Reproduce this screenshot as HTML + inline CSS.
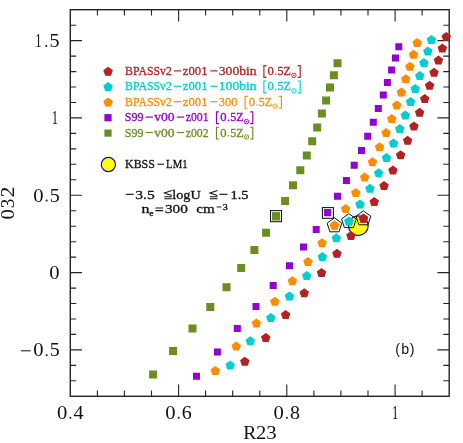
<!DOCTYPE html>
<html><head><meta charset="utf-8"><title>O32 vs R23</title>
<style>html,body{margin:0;padding:0;background:#fff;}svg{display:block;will-change:transform;}text{font-family:"Liberation Serif",serif;}</style>
</head><body>
<svg width="463" height="443" viewBox="0 0 463 443">
<rect width="463" height="443" fill="#fff"/>
<path d="M70.3 380.8h5.9M449.2 380.8h-5.9M70.3 365.4h5.9M449.2 365.4h-5.9M70.3 349.9h11.7M449.2 349.9h-11.7M70.3 334.4h5.9M449.2 334.4h-5.9M70.3 319.0h5.9M449.2 319.0h-5.9M70.3 303.5h5.9M449.2 303.5h-5.9M70.3 288.1h5.9M449.2 288.1h-5.9M70.3 272.6h11.7M449.2 272.6h-11.7M70.3 257.1h5.9M449.2 257.1h-5.9M70.3 241.7h5.9M449.2 241.7h-5.9M70.3 226.2h5.9M449.2 226.2h-5.9M70.3 210.7h5.9M449.2 210.7h-5.9M70.3 195.3h11.7M449.2 195.3h-11.7M70.3 179.8h5.9M449.2 179.8h-5.9M70.3 164.3h5.9M449.2 164.3h-5.9M70.3 148.9h5.9M449.2 148.9h-5.9M70.3 133.4h5.9M449.2 133.4h-5.9M70.3 117.9h11.7M449.2 117.9h-11.7M70.3 102.5h5.9M449.2 102.5h-5.9M70.3 87.0h5.9M449.2 87.0h-5.9M70.3 71.6h5.9M449.2 71.6h-5.9M70.3 56.1h5.9M449.2 56.1h-5.9M70.3 40.6h11.7M449.2 40.6h-11.7M70.3 25.2h5.9M449.2 25.2h-5.9M97.4 396.3v-5.9M97.4 9.7v5.9M124.4 396.3v-5.9M124.4 9.7v5.9M151.5 396.3v-5.9M151.5 9.7v5.9M178.6 396.3v-11.7M178.6 9.7v11.7M205.6 396.3v-5.9M205.6 9.7v5.9M232.7 396.3v-5.9M232.7 9.7v5.9M259.8 396.3v-5.9M259.8 9.7v5.9M286.8 396.3v-11.7M286.8 9.7v11.7M313.9 396.3v-5.9M313.9 9.7v5.9M340.9 396.3v-5.9M340.9 9.7v5.9M368.0 396.3v-5.9M368.0 9.7v5.9M395.1 396.3v-11.7M395.1 9.7v11.7M422.1 396.3v-5.9M422.1 9.7v5.9" stroke="#242424" stroke-width="1.1" fill="none"/>
<rect x="70.3" y="9.7" width="378.9" height="386.6" fill="none" stroke="#242424" stroke-width="1.4"/>
<g>
<circle cx="358.3" cy="225.7" r="9.9" fill="#ffff00" stroke="#0a0acd" stroke-width="1.2"/>
<path fill="#6b8e23" d="M149.1 370.6h8.0v8.0h-8.0zM169.1 346.9h8.0v8.0h-8.0zM188.5 324.6h8.0v8.0h-8.0zM206.3 303.1h8.0v8.0h-8.0zM222.5 283.2h8.0v8.0h-8.0zM237.2 264.1h8.0v8.0h-8.0zM250.4 245.9h8.0v8.0h-8.0zM262.1 228.7h8.0v8.0h-8.0zM272.1 212.4h8.0v8.0h-8.0zM281.1 197.1h8.0v8.0h-8.0zM289.0 181.3h8.0v8.0h-8.0zM296.3 166.2h8.0v8.0h-8.0zM302.8 151.5h8.0v8.0h-8.0zM308.2 137.3h8.0v8.0h-8.0zM313.2 123.5h8.0v8.0h-8.0zM317.9 109.6h8.0v8.0h-8.0zM322.1 96.4h8.0v8.0h-8.0zM326.0 83.4h8.0v8.0h-8.0zM329.9 71.2h8.0v8.0h-8.0zM333.5 59.2h8.0v8.0h-8.0z"/>
<path fill="#9400d3" d="M193.0 372.8h7.0v7.0h-7.0zM213.9 348.5h7.0v7.0h-7.0zM233.8 325.0h7.0v7.0h-7.0zM252.5 302.9h7.0v7.0h-7.0zM269.7 282.0h7.0v7.0h-7.0zM286.0 262.3h7.0v7.0h-7.0zM300.0 243.5h7.0v7.0h-7.0zM312.7 226.0h7.0v7.0h-7.0zM324.1 209.2h7.0v7.0h-7.0zM334.0 192.8h7.0v7.0h-7.0zM342.9 177.0h7.0v7.0h-7.0zM350.7 161.7h7.0v7.0h-7.0zM358.0 147.0h7.0v7.0h-7.0zM364.2 132.7h7.0v7.0h-7.0zM369.8 118.7h7.0v7.0h-7.0zM374.8 104.9h7.0v7.0h-7.0zM379.8 91.6h7.0v7.0h-7.0zM383.9 79.0h7.0v7.0h-7.0zM388.1 66.6h7.0v7.0h-7.0zM392.0 54.6h7.0v7.0h-7.0zM395.3 43.2h7.0v7.0h-7.0z"/>
<path fill="#ff8c00" d="M215.3,365.9L220.1,369.4L218.3,374.9L212.4,374.9L210.6,369.4zM236.2,341.6L241.0,345.1L239.2,350.6L233.3,350.6L231.5,345.1zM256.3,318.6L261.1,322.1L259.3,327.6L253.4,327.6L251.6,322.1zM274.8,296.8L279.6,300.3L277.8,305.8L271.9,305.8L270.1,300.3zM292.3,276.3L297.1,279.8L295.3,285.3L289.4,285.3L287.6,279.8zM307.9,256.9L312.7,260.4L310.9,265.9L305.0,265.9L303.2,260.4zM322.0,238.3L326.8,241.8L325.0,247.3L319.1,247.3L317.3,241.8zM334.4,220.6L339.2,224.1L337.4,229.6L331.5,229.6L329.7,224.1zM345.6,203.9L350.4,207.4L348.6,212.9L342.7,212.9L340.9,207.4zM355.8,188.1L360.5,191.6L358.7,197.1L352.8,197.1L351.0,191.6zM364.6,172.4L369.4,175.9L367.6,181.4L361.7,181.4L359.9,175.9zM372.4,157.3L377.2,160.8L375.4,166.3L369.5,166.3L367.7,160.8zM379.5,142.2L384.3,145.7L382.5,151.2L376.6,151.2L374.8,145.7zM386.0,127.9L390.8,131.4L389.0,136.9L383.1,136.9L381.3,131.4zM391.8,114.0L396.5,117.5L394.7,123.0L388.8,123.0L387.0,117.5zM396.8,100.6L401.5,104.1L399.7,109.6L393.8,109.6L392.0,104.1zM401.3,87.6L406.1,91.1L404.3,96.6L398.4,96.6L396.6,91.1zM405.8,74.2L410.5,77.7L408.7,83.2L402.8,83.2L401.0,77.7zM409.9,61.8L414.7,65.3L412.9,70.8L407.0,70.8L405.2,65.3zM413.5,49.8L418.3,53.3L416.5,58.8L410.6,58.8L408.8,53.3zM417.1,38.1L421.9,41.6L420.1,47.1L414.2,47.1L412.4,41.6z"/>
<path fill="#00ced1" d="M230.2,360.4L234.9,363.9L233.1,369.4L227.2,369.4L225.4,363.9zM250.3,336.3L255.1,339.8L253.3,345.3L247.4,345.3L245.6,339.8zM270.8,313.1L275.6,316.6L273.8,322.1L267.9,322.1L266.1,316.6zM289.4,291.5L294.2,295.0L292.4,300.5L286.5,300.5L284.7,295.0zM306.8,271.1L311.5,274.6L309.7,280.1L303.8,280.1L302.0,274.6zM322.3,252.1L327.1,255.6L325.3,261.1L319.4,261.1L317.6,255.6zM336.3,233.3L341.1,236.8L339.3,242.3L333.4,242.3L331.6,236.8zM348.9,216.4L353.7,219.9L351.9,225.4L346.0,225.4L344.2,219.9zM360.0,199.6L364.8,203.1L363.0,208.6L357.1,208.6L355.3,203.1zM369.9,183.8L374.7,187.3L372.9,192.8L367.0,192.8L365.2,187.3zM378.6,168.3L383.4,171.8L381.6,177.3L375.7,177.3L373.9,171.8zM386.5,153.1L391.3,156.6L389.5,162.1L383.6,162.1L381.8,156.6zM393.5,138.6L398.3,142.1L396.5,147.6L390.6,147.6L388.8,142.1zM399.8,124.1L404.6,127.6L402.8,133.1L396.9,133.1L395.1,127.6zM405.3,110.4L410.1,113.9L408.3,119.4L402.4,119.4L400.6,113.9zM410.5,96.9L415.3,100.4L413.5,105.9L407.6,105.9L405.8,100.4zM415.2,84.1L420.0,87.6L418.2,93.1L412.3,93.1L410.5,87.6zM419.8,70.9L424.5,74.4L422.7,79.9L416.8,79.9L415.0,74.4zM423.9,58.1L428.7,61.6L426.9,67.1L421.0,67.1L419.2,61.6zM427.8,46.4L432.6,49.9L430.8,55.4L424.9,55.4L423.1,49.9zM431.4,35.0L436.2,38.5L434.4,44.0L428.5,44.0L426.7,38.5z"/>
<path fill="#b22222" d="M244.8,356.8L249.6,360.3L247.8,365.8L241.9,365.8L240.1,360.3zM265.8,332.9L270.5,336.4L268.7,341.9L262.8,341.9L261.0,336.4zM285.6,310.0L290.4,313.5L288.6,319.0L282.7,319.0L280.9,313.5zM304.2,288.3L309.0,291.8L307.2,297.3L301.3,297.3L299.5,291.8zM321.5,268.1L326.3,271.6L324.5,277.1L318.6,277.1L316.8,271.6zM336.9,248.8L341.7,252.3L339.9,257.8L334.0,257.8L332.2,252.3zM350.9,230.9L355.7,234.4L353.9,239.9L348.0,239.9L346.2,234.4zM363.4,213.6L368.2,217.1L366.4,222.6L360.5,222.6L358.7,217.1zM374.2,196.9L379.0,200.4L377.2,205.9L371.3,205.9L369.5,200.4zM384.0,181.1L388.8,184.6L387.0,190.1L381.1,190.1L379.3,184.6zM392.9,165.6L397.7,169.1L395.9,174.6L390.0,174.6L388.2,169.1zM400.6,150.3L405.4,153.8L403.6,159.3L397.7,159.3L395.9,153.8zM407.6,135.7L412.4,139.2L410.6,144.7L404.7,144.7L402.9,139.2zM413.9,121.4L418.7,124.9L416.9,130.4L411.0,130.4L409.2,124.9zM419.6,107.7L424.4,111.2L422.6,116.7L416.7,116.7L414.9,111.2zM424.8,94.1L429.5,97.6L427.7,103.1L421.8,103.1L420.0,97.6zM429.6,80.7L434.4,84.2L432.6,89.7L426.7,89.7L424.9,84.2zM434.0,67.7L438.8,71.2L437.0,76.7L431.1,76.7L429.3,71.2zM438.4,55.5L443.2,59.0L441.4,64.5L435.5,64.5L433.7,59.0zM442.3,43.6L447.1,47.1L445.3,52.6L439.4,52.6L437.6,47.1zM446.2,31.9L451.0,35.4L449.2,40.9L443.3,40.9L441.5,35.4z"/>
<rect x="272" y="212.1" width="8" height="7.7" fill="#6b8e23"/><rect x="270.5" y="210.6" width="11" height="11.1" fill="none" stroke="#111" stroke-width="1.05"/>
<rect x="324.1" y="209.1" width="7" height="6.9" fill="#9400d3"/><rect x="322.4" y="207.6" width="11" height="10.7" fill="none" stroke="#111" stroke-width="1.05"/>
<polygon points="334.4,220.7 339.2,224.2 337.4,229.7 331.5,229.7 329.7,224.2" fill="#ff8c00"/><polygon points="334.4,217.9 341.8,223.2 339.0,231.8 329.9,231.8 327.1,223.2" fill="none" stroke="#111" stroke-width="1.0"/>
<polygon points="348.9,216.5 353.7,220.0 351.9,225.5 346.0,225.5 344.2,220.0" fill="#00ced1"/><polygon points="348.9,213.7 356.3,219.0 353.5,227.6 344.4,227.6 341.6,219.0" fill="none" stroke="#111" stroke-width="1.0"/>
<polygon points="363.4,213.7 368.2,217.2 366.4,222.7 360.5,222.7 358.7,217.2" fill="#b22222"/><polygon points="363.4,210.9 370.8,216.2 368.0,224.8 358.9,224.8 356.1,216.2" fill="none" stroke="#111" stroke-width="1.0"/>
</g>
<text x="35.2" y="47.0" font-size="18.2" fill="#111" textLength="6.3" lengthAdjust="spacingAndGlyphs">1</text><circle cx="46.3" cy="46.1" r="1.0" fill="#111"/><text x="49.6" y="47.0" font-size="18.2" fill="#111" textLength="10.0" lengthAdjust="spacingAndGlyphs">5</text>
<text x="51.8" y="124.3" font-size="18.2" fill="#111" textLength="6.3" lengthAdjust="spacingAndGlyphs">1</text>
<text x="33.2" y="201.5" font-size="18.2" fill="#111" textLength="10.3" lengthAdjust="spacingAndGlyphs">0</text><circle cx="46.6" cy="200.6" r="1.0" fill="#111"/><text x="49.7" y="201.5" font-size="18.2" fill="#111" textLength="10.0" lengthAdjust="spacingAndGlyphs">5</text>
<text x="49.2" y="278.8" font-size="18.2" fill="#111" textLength="10.3" lengthAdjust="spacingAndGlyphs">0</text>
<text x="33.2" y="356.2" font-size="18.2" fill="#111" textLength="10.3" lengthAdjust="spacingAndGlyphs">0</text><circle cx="46.6" cy="355.3" r="1.0" fill="#111"/><text x="49.7" y="356.2" font-size="18.2" fill="#111" textLength="10.0" lengthAdjust="spacingAndGlyphs">5</text>
<rect x="21" y="350.3" width="9.7" height="1.0" fill="#111"/>
<text x="57.0" y="418.6" font-size="18.2" fill="#111" textLength="10.3" lengthAdjust="spacingAndGlyphs">0</text><circle cx="70.4" cy="417.7" r="1.0" fill="#111"/><text x="73.5" y="418.6" font-size="18.2" fill="#111" textLength="10.0" lengthAdjust="spacingAndGlyphs">4</text>
<text x="165.3" y="418.6" font-size="18.2" fill="#111" textLength="10.3" lengthAdjust="spacingAndGlyphs">0</text><circle cx="178.7" cy="417.7" r="1.0" fill="#111"/><text x="181.8" y="418.6" font-size="18.2" fill="#111" textLength="10.0" lengthAdjust="spacingAndGlyphs">6</text>
<text x="273.5" y="418.6" font-size="18.2" fill="#111" textLength="10.3" lengthAdjust="spacingAndGlyphs">0</text><circle cx="286.9" cy="417.7" r="1.0" fill="#111"/><text x="290.0" y="418.6" font-size="18.2" fill="#111" textLength="10.0" lengthAdjust="spacingAndGlyphs">8</text>
<text x="392.0" y="418.6" font-size="18.2" fill="#111" textLength="6.3" lengthAdjust="spacingAndGlyphs">1</text>
<text x="243.3" y="438.9" font-size="18.2" fill="#111" textLength="13.1" lengthAdjust="spacingAndGlyphs">R</text><text x="256.0" y="438.9" font-size="18.2" fill="#111" textLength="10.3" lengthAdjust="spacingAndGlyphs">2</text><text x="266.3" y="438.9" font-size="18.2" fill="#111" textLength="10.4" lengthAdjust="spacingAndGlyphs">3</text>
<g transform="translate(14.3,219.1) rotate(-90)"><text x="-0.5" y="0" font-size="18.2" fill="#111" textLength="10.3" lengthAdjust="spacingAndGlyphs">0</text><text x="10.8" y="0" font-size="18.2" fill="#111" textLength="9.6" lengthAdjust="spacingAndGlyphs">3</text><text x="21.5" y="0" font-size="18.2" fill="#111" textLength="11.0" lengthAdjust="spacingAndGlyphs">2</text></g>
<polygon points="108.1,66.7 112.9,70.2 111.0,75.7 105.2,75.7 103.3,70.2" fill="#b22222"/>
<text x="125.1" y="74.9" font-size="12.7" fill="#b22222" stroke="#b22222" stroke-width="0.3" textLength="46.7" lengthAdjust="spacingAndGlyphs">BPASSv2</text>
<rect x="174.0" y="70.30" width="7.3" height="1.2" fill="#b22222"/>
<text x="182.8" y="74.9" font-size="12.7" fill="#b22222" stroke="#b22222" stroke-width="0.3" textLength="24.7" lengthAdjust="spacingAndGlyphs">z001</text>
<rect x="210.3" y="70.30" width="7.3" height="1.2" fill="#b22222"/>
<text x="218.8" y="74.9" font-size="12.7" fill="#b22222" stroke="#b22222" stroke-width="0.3" textLength="37.9" lengthAdjust="spacingAndGlyphs">300bin</text>
<path d="M266.5 65.6H263.9V77.4H266.5M297.6 65.6H300.2V77.4H297.6" fill="none" stroke="#b22222" stroke-width="1.15"/><text x="267.5" y="74.9" font-size="12.7" fill="#b22222" stroke="#b22222" stroke-width="0.3" textLength="6.3" lengthAdjust="spacingAndGlyphs">0</text><circle cx="275.8" cy="74.2" r="0.8" fill="#b22222"/><text x="277.6" y="74.9" font-size="12.7" fill="#b22222" stroke="#b22222" stroke-width="0.3" textLength="13.4" lengthAdjust="spacingAndGlyphs">5Z</text><circle cx="293.9" cy="75.4" r="2.25" fill="none" stroke="#b22222" stroke-width="0.9"/><circle cx="293.9" cy="75.4" r="0.8" fill="#b22222"/>
<polygon points="108.1,82.1 112.9,85.6 111.0,91.1 105.2,91.1 103.3,85.6" fill="#00ced1"/>
<text x="125.1" y="90.3" font-size="12.7" fill="#00ced1" stroke="#00ced1" stroke-width="0.3" textLength="46.7" lengthAdjust="spacingAndGlyphs">BPASSv2</text>
<rect x="174.0" y="85.70" width="7.3" height="1.2" fill="#00ced1"/>
<text x="182.8" y="90.3" font-size="12.7" fill="#00ced1" stroke="#00ced1" stroke-width="0.3" textLength="24.7" lengthAdjust="spacingAndGlyphs">z001</text>
<rect x="210.3" y="85.70" width="7.3" height="1.2" fill="#00ced1"/>
<text x="218.8" y="90.3" font-size="12.7" fill="#00ced1" stroke="#00ced1" stroke-width="0.3" textLength="37.9" lengthAdjust="spacingAndGlyphs">100bin</text>
<path d="M266.5 81.0H263.9V92.8H266.5M297.6 81.0H300.2V92.8H297.6" fill="none" stroke="#00ced1" stroke-width="1.15"/><text x="267.5" y="90.3" font-size="12.7" fill="#00ced1" stroke="#00ced1" stroke-width="0.3" textLength="6.3" lengthAdjust="spacingAndGlyphs">0</text><circle cx="275.8" cy="89.6" r="0.8" fill="#00ced1"/><text x="277.6" y="90.3" font-size="12.7" fill="#00ced1" stroke="#00ced1" stroke-width="0.3" textLength="13.4" lengthAdjust="spacingAndGlyphs">5Z</text><circle cx="293.9" cy="90.8" r="2.25" fill="none" stroke="#00ced1" stroke-width="0.9"/><circle cx="293.9" cy="90.8" r="0.8" fill="#00ced1"/>
<polygon points="108.1,97.5 112.9,101.0 111.0,106.5 105.2,106.5 103.3,101.0" fill="#ff8c00"/>
<text x="125.1" y="105.7" font-size="12.7" fill="#ff8c00" stroke="#ff8c00" stroke-width="0.3" textLength="46.7" lengthAdjust="spacingAndGlyphs">BPASSv2</text>
<rect x="174.0" y="101.10" width="7.3" height="1.2" fill="#ff8c00"/>
<text x="182.8" y="105.7" font-size="12.7" fill="#ff8c00" stroke="#ff8c00" stroke-width="0.3" textLength="24.7" lengthAdjust="spacingAndGlyphs">z001</text>
<rect x="210.3" y="101.10" width="7.3" height="1.2" fill="#ff8c00"/>
<text x="218.8" y="105.7" font-size="12.7" fill="#ff8c00" stroke="#ff8c00" stroke-width="0.3" textLength="18.6" lengthAdjust="spacingAndGlyphs">300</text>
<path d="M247.7 96.4H245.1V108.2H247.7M278.8 96.4H281.4V108.2H278.8" fill="none" stroke="#ff8c00" stroke-width="1.15"/><text x="248.7" y="105.7" font-size="12.7" fill="#ff8c00" stroke="#ff8c00" stroke-width="0.3" textLength="6.3" lengthAdjust="spacingAndGlyphs">0</text><circle cx="257.0" cy="105.0" r="0.8" fill="#ff8c00"/><text x="258.8" y="105.7" font-size="12.7" fill="#ff8c00" stroke="#ff8c00" stroke-width="0.3" textLength="13.4" lengthAdjust="spacingAndGlyphs">5Z</text><circle cx="275.1" cy="106.2" r="2.25" fill="none" stroke="#ff8c00" stroke-width="0.9"/><circle cx="275.1" cy="106.2" r="0.8" fill="#ff8c00"/>
<rect x="104.4" y="114.1" width="7.2" height="7.2" fill="#9400d3"/>
<text x="124.8" y="121.1" font-size="12.7" fill="#9400d3" stroke="#9400d3" stroke-width="0.3" textLength="18.7" lengthAdjust="spacingAndGlyphs">S99</text>
<rect x="145.7" y="116.50" width="7.4" height="1.2" fill="#9400d3"/>
<text x="154.3" y="121.1" font-size="12.7" fill="#9400d3" stroke="#9400d3" stroke-width="0.3" textLength="20.3" lengthAdjust="spacingAndGlyphs">v00</text>
<rect x="176.8" y="116.50" width="7.4" height="1.2" fill="#9400d3"/>
<text x="185.7" y="121.1" font-size="12.7" fill="#9400d3" stroke="#9400d3" stroke-width="0.3" textLength="22.9" lengthAdjust="spacingAndGlyphs">z001</text>
<path d="M219.1 111.8H216.5V123.6H219.1M250.2 111.8H252.8V123.6H250.2" fill="none" stroke="#9400d3" stroke-width="1.15"/><text x="220.2" y="121.1" font-size="12.7" fill="#9400d3" stroke="#9400d3" stroke-width="0.3" textLength="6.3" lengthAdjust="spacingAndGlyphs">0</text><circle cx="228.5" cy="120.4" r="0.8" fill="#9400d3"/><text x="230.2" y="121.1" font-size="12.7" fill="#9400d3" stroke="#9400d3" stroke-width="0.3" textLength="13.4" lengthAdjust="spacingAndGlyphs">5Z</text><circle cx="246.5" cy="121.6" r="2.25" fill="none" stroke="#9400d3" stroke-width="0.9"/><circle cx="246.5" cy="121.6" r="0.8" fill="#9400d3"/>
<rect x="104.4" y="129.5" width="7.2" height="7.2" fill="#6b8e23"/>
<text x="124.8" y="136.5" font-size="12.7" fill="#6b8e23" stroke="#6b8e23" stroke-width="0.3" textLength="18.7" lengthAdjust="spacingAndGlyphs">S99</text>
<rect x="145.7" y="131.90" width="7.4" height="1.2" fill="#6b8e23"/>
<text x="154.3" y="136.5" font-size="12.7" fill="#6b8e23" stroke="#6b8e23" stroke-width="0.3" textLength="20.3" lengthAdjust="spacingAndGlyphs">v00</text>
<rect x="176.8" y="131.90" width="7.4" height="1.2" fill="#6b8e23"/>
<text x="185.7" y="136.5" font-size="12.7" fill="#6b8e23" stroke="#6b8e23" stroke-width="0.3" textLength="22.9" lengthAdjust="spacingAndGlyphs">z002</text>
<path d="M219.1 127.2H216.5V139.0H219.1M250.2 127.2H252.8V139.0H250.2" fill="none" stroke="#6b8e23" stroke-width="1.15"/><text x="220.2" y="136.5" font-size="12.7" fill="#6b8e23" stroke="#6b8e23" stroke-width="0.3" textLength="6.3" lengthAdjust="spacingAndGlyphs">0</text><circle cx="228.5" cy="135.8" r="0.8" fill="#6b8e23"/><text x="230.2" y="136.5" font-size="12.7" fill="#6b8e23" stroke="#6b8e23" stroke-width="0.3" textLength="13.4" lengthAdjust="spacingAndGlyphs">5Z</text><circle cx="246.5" cy="137.0" r="2.25" fill="none" stroke="#6b8e23" stroke-width="0.9"/><circle cx="246.5" cy="137.0" r="0.8" fill="#6b8e23"/>
<circle cx="108.4" cy="164.5" r="7.1" fill="#ffff00" stroke="#0a0acd" stroke-width="1.2"/>
<text x="125.0" y="168.4" font-size="12.7" fill="#111" stroke="#111" stroke-width="0.3" textLength="29.9" lengthAdjust="spacingAndGlyphs">KBSS</text>
<rect x="157.4" y="163.65" width="6.5" height="1.1" fill="#111"/>
<text x="166.1" y="168.4" font-size="12.7" fill="#111" stroke="#111" stroke-width="0.3" textLength="21.4" lengthAdjust="spacingAndGlyphs">LM1</text>
<rect x="125.8" y="193.75" width="7.9" height="1.1" fill="#111"/>
<text x="135.2" y="198.7" font-size="12.7" fill="#111" stroke="#111" stroke-width="0.3" textLength="19.5" lengthAdjust="spacingAndGlyphs">3.5</text>
<path d="M171.8 190.4L164.3 193.0L171.8 195.6M164.3 196.8H171.8M164.3 198.7H171.8" fill="none" stroke="#111" stroke-width="1.05"/>
<text x="172.2" y="198.7" font-size="12.7" fill="#111" stroke="#111" stroke-width="0.3" textLength="28.5" lengthAdjust="spacingAndGlyphs">logU</text>
<path d="M217.5 190.4L209.9 193.0L217.5 195.6M209.9 196.8H217.5M209.9 198.7H217.5" fill="none" stroke="#111" stroke-width="1.05"/>
<rect x="219.4" y="193.75" width="8.1" height="1.1" fill="#111"/>
<text x="230.5" y="198.7" font-size="12.7" fill="#111" stroke="#111" stroke-width="0.3" textLength="18.1" lengthAdjust="spacingAndGlyphs">1.5</text>
<text x="141.6" y="213.4" font-size="12.7" fill="#111" stroke="#111" stroke-width="0.3" textLength="7.9" lengthAdjust="spacingAndGlyphs">n</text>
<text x="149.3" y="216.0" font-size="7.6" fill="#111" stroke="#111" stroke-width="0.3" textLength="4.3" lengthAdjust="spacingAndGlyphs">e</text>
<path d="M155.5 208.0h7.6M155.5 210.6h7.6" stroke="#111" stroke-width="1.05" fill="none"/>
<text x="164.9" y="213.4" font-size="12.7" fill="#111" stroke="#111" stroke-width="0.3" textLength="22.9" lengthAdjust="spacingAndGlyphs">300</text>
<text x="196.3" y="213.4" font-size="12.7" fill="#111" stroke="#111" stroke-width="0.3" textLength="18.5" lengthAdjust="spacingAndGlyphs">cm</text>
<rect x="216.6" y="206.5" width="4.8" height="0.95" fill="#111"/>
<text x="222.8" y="209.6" font-size="7.8" fill="#111" stroke="#111" stroke-width="0.3" textLength="5.0" lengthAdjust="spacingAndGlyphs">3</text>
<text x="395.2" y="354.2" font-size="14.5" fill="#111" style="font-family:'Liberation Sans',sans-serif" textLength="4.7" lengthAdjust="spacingAndGlyphs">(</text><text x="401.2" y="354.2" font-size="14.5" fill="#111" style="font-family:'Liberation Sans',sans-serif" textLength="7.9" lengthAdjust="spacingAndGlyphs">b</text><text x="409.7" y="354.2" font-size="14.5" fill="#111" style="font-family:'Liberation Sans',sans-serif" textLength="4.8" lengthAdjust="spacingAndGlyphs">)</text>
</svg></body></html>
